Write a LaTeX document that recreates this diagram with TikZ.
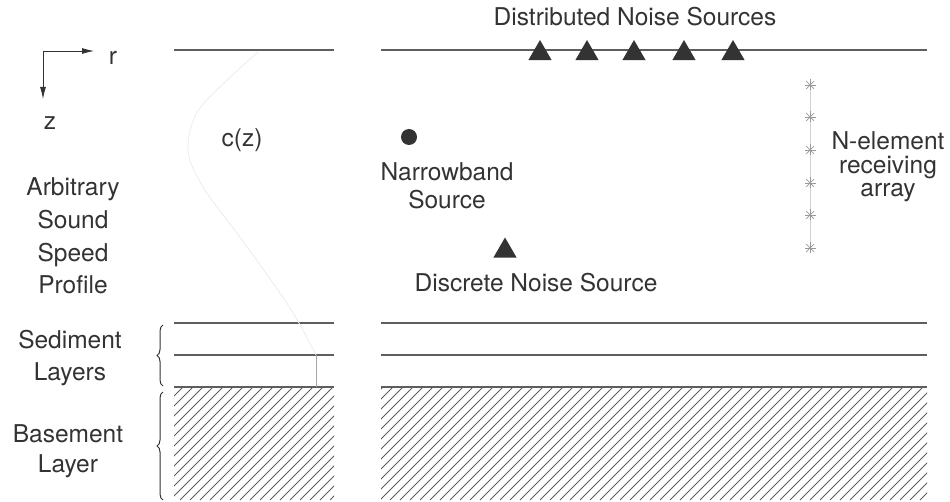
\documentclass[tikz,border=0pt]{standalone}
\usepackage{fontspec}
\setmainfont{TeX Gyre Heros}
\usetikzlibrary{arrows.meta,shapes.geometric,decorations.pathreplacing}
\definecolor{ink}{HTML}{333333}
\definecolor{rulegray}{HTML}{5E5E5E}

\begin{document}
\begin{tikzpicture}[x=1pt,y=-1pt,
    every node/.style={font=\fontsize{24.5}{32.7}\selectfont,text=ink},
    layer/.style={rulegray,line width=1.1pt},
    hatch/.style={rulegray,line width=0.8pt},
    src/.style={regular polygon,regular polygon sides=3,fill=ink,inner sep=0pt,minimum size=27pt},
    spoke/.style={gray!80,line width=0.7pt}]
    \useasboundingbox (0,0) rectangle (950,502);
    % axes
    \coordinate (o) at (43,51);
    \coordinate (rend) at (94,51);
    \coordinate (zend) at (43,99);
    \draw[ink,line width=0.8pt,-{Latex[length=12pt,width=6pt]}] (o) -- (rend);
    \draw[ink,line width=0.8pt,-{Latex[length=12pt,width=6pt]}] (o) -- (zend);
    \node (r) at (113,58) {r};
    \node (z) at (50,123) {z};
    % surface, sediment and basement
    \foreach \y/\n in {50/s,323/a,355/b,387/c}{
      \coordinate (L\n) at (174,\y); \coordinate (M\n) at (334,\y);
      \coordinate (R\n) at (381,\y); \coordinate (E\n) at (927,\y);
      \draw[layer] (L\n) -- (M\n);
      \draw[layer] (R\n) -- (E\n);
    }
    \begin{scope}
      \clip (174,387) rectangle (334,500) (381,387) rectangle (927,500);
      \foreach \x in {60,70,...,940}
        \draw[hatch] (\x,500) -- ++(115,-115);
    \end{scope}
    % sound speed profile
    \draw[gray!15,line width=0.8pt] plot[smooth] coordinates {(258,52) (200,108) (188,150) (203,187) (242,240) (280,293) (299,323) (316,355)};
    \coordinate (pa) at (316,355);
    \coordinate (pb) at (316,387);
    \draw[gray!70,line width=0.7pt] (pa) -- (pb);
    \node (cz) at (242,140) {c(z)};
    % sources
    \foreach \i/\x in {1/540,2/587,3/634,4/684,5/733}
      \node[src] (t\i) at (\x,53.5) {};
    \node (dist) at (635,17) {Distributed Noise Sources};
    \node[circle,fill=ink,inner sep=0pt,minimum size=16pt] (nb) at (409,137) {};
    \node[align=center,font=\fontsize{24.5}{28}\selectfont] (nbl) at (447,186) {Narrowband\\Source};
    \node[src] (dn) at (505,251) {};
    \node (dnl) at (536,283) {Discrete Noise Source};
    % receiving array
    \foreach \i/\y in {1/85,2/117,3/150,4/183,5/215,6/248}
      \coordinate (a\i) at (810,\y);
    \draw[gray!35,line width=0.6pt] (a1) -- (a6);
    \foreach \i in {1,...,6}
      \foreach \a in {0,45,90,135}
        \draw[spoke] (a\i) ++(\a:5.5) -- ++(\a+180:11);
    \node[align=center,font=\fontsize{24.5}{23.5}\selectfont] (arr) at (888,167) {N-element\\receiving\\array};
    % labels on the left
    \node[align=center] (ssp) at (73,236) {Arbitrary\\Sound\\Speed\\Profile};
    \node[align=center,font=\fontsize{24.5}{32}\selectfont] (sed) at (70,358) {Sediment\\Layers};
    \node[align=center,font=\fontsize{24.5}{30}\selectfont] (bas) at (68,451) {Basement\\Layer};
    \coordinate (sb1) at (163,386); \coordinate (sb2) at (163,325);
    \coordinate (bb1) at (163,500); \coordinate (bb2) at (163,392);
    \draw[ink,line width=1pt,decorate,decoration={brace,amplitude=6pt}] (sb1) -- (sb2);
    \draw[ink,line width=1pt,decorate,decoration={brace,amplitude=6pt}] (bb1) -- (bb2);
\end{tikzpicture}
\end{document}
